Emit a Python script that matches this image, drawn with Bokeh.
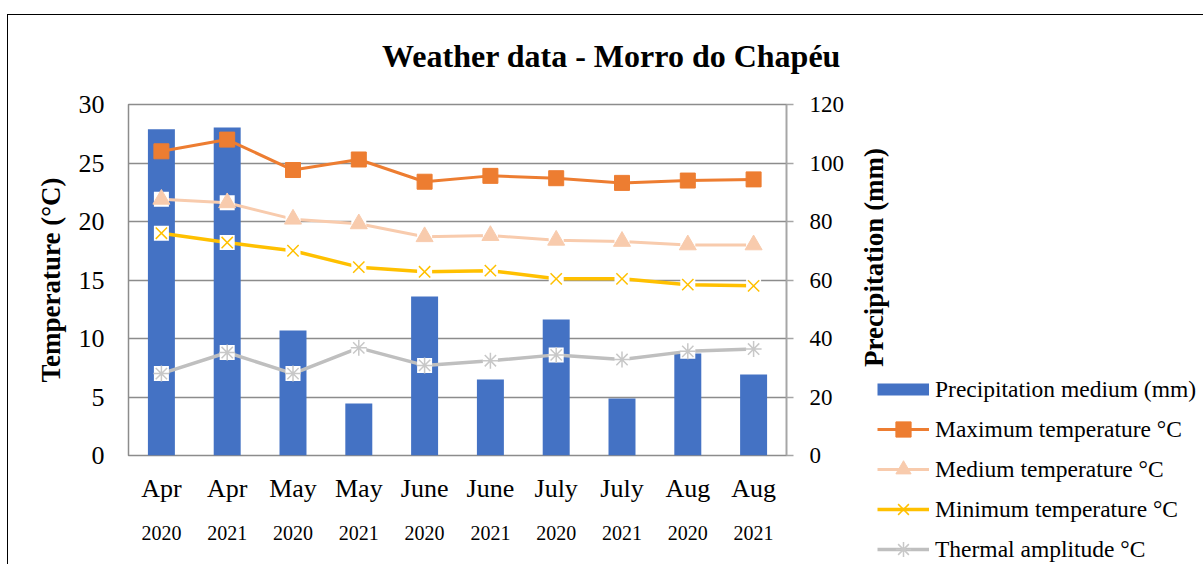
from bokeh.plotting import figure
from bokeh.models import (Range1d, LinearAxis, FixedTicker, Legend, LegendItem,
                          ColumnDataSource, Label)
from bokeh.layouts import column, row
from bokeh.embed import file_html
from bokeh.resources import INLINE

months = ["Apr", "Apr", "May", "May", "June", "June", "July", "July", "Aug", "Aug"]
years = ["2020", "2021", "2020", "2021", "2020", "2021", "2020", "2021", "2020", "2021"]
precip = [111.5, 112.1, 42.7, 17.8, 54.4, 26.0, 46.5, 19.5, 34.9, 27.7]
t_max = [26.0, 27.0, 24.4, 25.3, 23.4, 23.9, 23.7, 23.3, 23.5, 23.6]
t_med = [21.9, 21.6, 20.2, 19.8, 18.7, 18.8, 18.4, 18.3, 18.0, 18.0]
t_min = [19.0, 18.2, 17.5, 16.1, 15.7, 15.8, 15.1, 15.1, 14.6, 14.5]
t_amp = [7.0, 8.8, 7.0, 9.2, 7.7, 8.1, 8.6, 8.2, 8.9, 9.1]
labels = ["Precipitation medium (mm)", "Maximum temperature °C", "Medium temperature °C",
          "Minimum temperature °C", "Thermal amplitude °C"]
title_text = "Weather data - Morro do Chapéu"

FONT = "Liberation Serif"
TW, TH = 1196, 60          # title strip
PW, PH = 852, 490          # main chart
QW = TW - PW               # right strip (axis title + legend)
FL, FT, FW, FH = 120, 30, 658, 351

C_BAR, C_MAX, C_MED, C_MIN, C_AMP = "#4472C4", "#ED7D31", "#F8CBAD", "#FFC000", "#BFBFBF"


def no_align(f):
    try:
        f.frame_align = False
    except Exception:
        pass


def blank(w, h):
    f = figure(width=w, height=h, output_backend="svg", toolbar_location=None, title=None,
               x_range=Range1d(0, w), y_range=Range1d(0, h),
               x_axis_type=None, y_axis_type=None, min_border=0)
    f.xgrid.visible = False
    f.ygrid.visible = False
    f.outline_line_color = None
    f.background_fill_color = "white"
    f.border_fill_color = "white"
    no_align(f)
    return f


# ---- title strip
t = blank(TW, TH)
t.margin = (14, 0, 0, 7)
t.styles = {"border-top": "1px solid black", "border-left": "1px solid black"}
t.add_layout(Label(x=603, y=20, text=title_text, text_align="center", text_baseline="middle",
                   text_font=FONT, text_font_size="32px", text_font_style="bold",
                   text_color="black"))

# ---- main chart
xpos = [i + 0.5 for i in range(len(months))]
src = ColumnDataSource(dict(x=xpos, precip=precip, t_max=t_max, t_med=t_med,
                            t_min=t_min, t_amp=t_amp))

p = figure(width=PW, height=PH, output_backend="svg", toolbar_location=None, title=None,
           x_range=Range1d(0, len(months)), y_range=Range1d(0, 30),
           min_border_left=FL, min_border_right=PW - FL - FW,
           min_border_top=FT, min_border_bottom=PH - FT - FH)
no_align(p)
p.margin = (0, 0, 0, 7)
p.styles = {"border-left": "1px solid black"}
p.extra_y_ranges = {"precip": Range1d(0, 120)}
p.background_fill_color = "white"
p.border_fill_color = "white"
p.outline_line_color = "#8c8c8c"
p.outline_line_width = 1.5

p.xgrid.visible = False
p.ygrid.ticker = FixedTicker(ticks=[0, 5, 10, 15, 20, 25, 30])
p.ygrid.grid_line_color = "#8c8c8c"
p.ygrid.grid_line_width = 1.5

la = p.yaxis[0]
la.ticker = FixedTicker(ticks=[0, 5, 10, 15, 20, 25, 30])
la.axis_line_color = None
la.major_tick_line_color = None
la.minor_tick_line_color = None
la.major_label_text_font = FONT
la.major_label_text_font_size = "26px"
la.major_label_text_color = "black"
la.major_label_standoff = 18
la.axis_label = "Temperature (°C)"
la.axis_label_text_font = FONT
la.axis_label_text_font_size = "27px"
la.axis_label_text_font_style = "bold"
la.axis_label_text_color = "black"
la.axis_label_standoff = 10

ra = LinearAxis(y_range_name="precip", ticker=FixedTicker(ticks=[0, 20, 40, 60, 80, 100, 120]))
ra.axis_line_color = "#a6a6a6"
ra.axis_line_width = 1.5
ra.major_tick_line_color = "#a6a6a6"
ra.major_tick_line_width = 1.5
ra.major_tick_out = 7
ra.major_tick_in = 0
ra.minor_tick_line_color = None
ra.major_label_text_font = FONT
ra.major_label_text_font_size = "23px"
ra.major_label_text_color = "black"
ra.major_label_standoff = 16
p.add_layout(ra, "right")

ma = p.xaxis[0]
ma.ticker = FixedTicker(ticks=xpos)
ma.major_label_overrides = {x: m for x, m in zip(xpos, months)}
ma.axis_line_color = None
ma.major_tick_line_color = None
ma.minor_tick_line_color = None
ma.major_label_text_font = FONT
ma.major_label_text_font_size = "26px"
ma.major_label_text_color = "black"
ma.major_label_standoff = 12

ya = LinearAxis(ticker=FixedTicker(ticks=xpos))
ya.major_label_overrides = {x: y for x, y in zip(xpos, years)}
ya.axis_line_color = None
ya.major_tick_line_color = None
ya.minor_tick_line_color = None
ya.major_label_text_font = FONT
ya.major_label_text_font_size = "20px"
ya.major_label_text_color = "black"
ya.major_label_standoff = 14
p.add_layout(ya, "below")

p.vbar(x="x", top="precip", width=0.41, source=src, y_range_name="precip",
       fill_color=C_BAR, line_color=None)

p.line("x", "t_max", source=src, line_color=C_MAX, line_width=3)
p.scatter("x", "t_max", source=src, marker="square", size=15,
          fill_color=C_MAX, line_color=C_MAX)

p.line("x", "t_med", source=src, line_color=C_MED, line_width=3)
p.scatter("x", "t_med", source=src, marker="square", size=15, fill_color="white", line_color=None)
p.scatter("x", "t_med", source=src, marker="triangle", size=17,
          fill_color=C_MED, line_color=C_MED)

p.line("x", "t_min", source=src, line_color=C_MIN, line_width=3.5)
p.scatter("x", "t_min", source=src, marker="square", size=15, fill_color="white", line_color=None)
p.scatter("x", "t_min", source=src, marker="x", size=16, line_color=C_MIN, line_width=1.5)

p.line("x", "t_amp", source=src, line_color=C_AMP, line_width=3.5)
p.scatter("x", "t_amp", source=src, marker="square", size=15, fill_color="white", line_color=None)
p.scatter("x", "t_amp", source=src, marker="asterisk", size=16, line_color="#C8C8C8", line_width=1.5)

# ---- right strip: secondary axis title + legend
q = blank(QW, PH)
q.add_layout(Label(x=14.5, y=307, text="Precipitation (mm)", angle=1.5708,
                   text_align="center", text_baseline="middle", text_font=FONT,
                   text_font_size="27px", text_font_style="bold", text_color="black"))

nan = float("nan")
keys = ColumnDataSource(dict(x=[nan], y=[nan]))
g_bar = q.line("x", "y", source=keys, line_color=C_BAR, line_width=12, line_cap="butt")
g_max = [q.line("x", "y", source=keys, line_color=C_MAX, line_width=3),
         q.scatter("x", "y", source=keys, marker="square", fill_color=C_MAX, line_color=C_MAX)]
g_med = [q.line("x", "y", source=keys, line_color=C_MED, line_width=3),
         q.scatter("x", "y", source=keys, marker="triangle", fill_color=C_MED, line_color=C_MED)]
g_min = [q.line("x", "y", source=keys, line_color=C_MIN, line_width=3.5),
         q.scatter("x", "y", source=keys, marker="x", line_color=C_MIN, line_width=1.5)]
g_amp = [q.line("x", "y", source=keys, line_color=C_AMP, line_width=3.5),
         q.scatter("x", "y", source=keys, marker="asterisk", line_color="#C8C8C8", line_width=1.5)]

legend = Legend(items=[
    LegendItem(label=labels[0], renderers=[g_bar]),
    LegendItem(label=labels[1], renderers=g_max),
    LegendItem(label=labels[2], renderers=g_med),
    LegendItem(label=labels[3], renderers=g_min),
    LegendItem(label=labels[4], renderers=g_amp),
], location=(18, -4))
legend.glyph_width = 52
legend.glyph_height = 38
legend.label_height = 20
legend.spacing = 2
legend.padding = 0
legend.margin = 0
legend.label_standoff = 6
legend.label_text_font = FONT
legend.label_text_font_size = "23.5px"
legend.label_text_color = "black"
legend.border_line_color = None
legend.background_fill_alpha = 0
q.add_layout(legend, "center")

layout = column(t, row(p, q))
open("out.html", "w").write(file_html(layout, INLINE))
